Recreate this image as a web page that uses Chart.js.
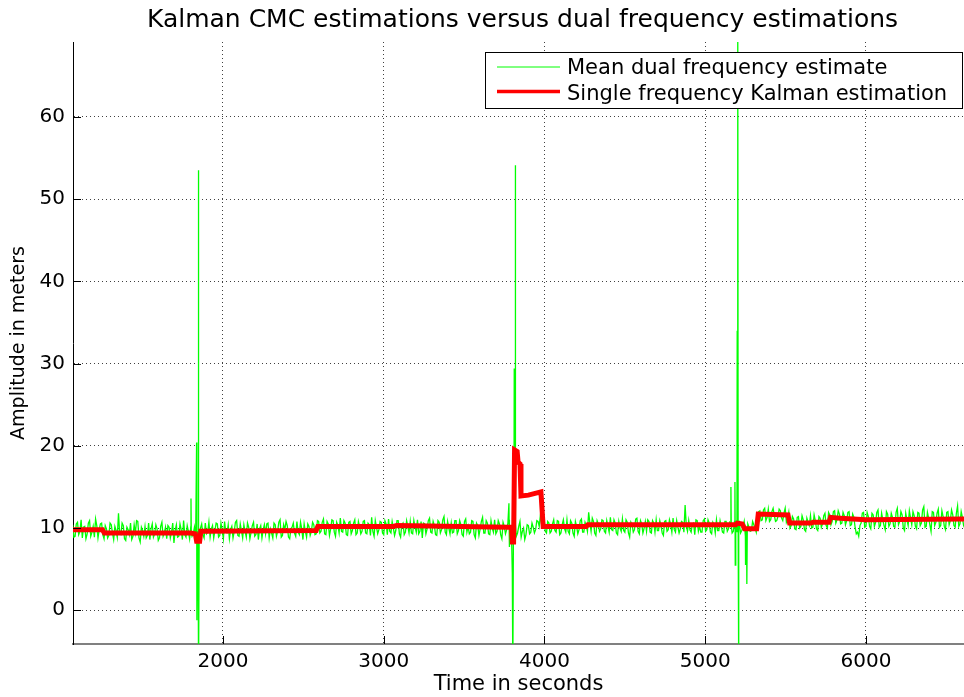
<!DOCTYPE html>
<html>
<head>
<meta charset="utf-8">
<title>Kalman CMC estimations versus dual frequency estimations</title>
<script src="https://cdn.jsdelivr.net/npm/chart.js@4.4.1/dist/chart.umd.min.js"></script>
<style>
    html, body { margin: 0; padding: 0; background: #fff; overflow: hidden; }
    #chart { display: block; }
</style>
</head>
<body>
<canvas id="chart" width="964" height="697"></canvas>
<script>
// Kalman CMC vs dual frequency

const chartTitle = 'Kalman CMC estimations versus dual frequency estimations';
const xTitle = 'Time in seconds';
const yTitle = 'Amplitude in meters';
const legendLabels = ['Mean dual frequency estimate', 'Single frequency Kalman estimation'];

const xTicks = [2000, 3000, 4000, 5000, 6000];
const yTicks = [0, 10, 20, 30, 40, 50, 60];
const xRange = [1067, 6610];
const yRange = [-4.1, 69.1];

// dual frequency estimate, one sample every 15 s from 1065 s
const dualStart = 1065;
const dualStep = 15;
const dualValues = [
    10.4, 9.0, 10.7, 9.6, 8.8, 10.2, 9.3, 10.9, 9.5, 8.9, 10.3, 9.8, 10.6, 8.7, 9.9, 9.1, 10.4, 8.6, 9.7, 11.8,
    9.2, 10.3, 8.5, 9.8, 10.6, 9.0, 9.4, 10.8, 8.3, 9.7, 10.2, 9.1, 8.6, 10.5, 9.3, 9.9, 8.8, 10.7, 9.4, 8.7,
    10.1, 9.5, 8.2, 10.4, 9.0, 9.8, 10.9, 8.9, 9.6, 10.2, 9.3, 8.8, 9.6, 10.0, 9.2, 10.6, 9.5, 8.9, 10.3, 9.7,
    10.5, 9.1, 9.8, 10.8, 9.4, 8.7, 10.2, 9.6, 10.9, 9.0, 9.7, 10.4, 8.9, 10.1, 9.5, 10.7, 9.2, 8.6, 10.3, 9.8,
    9.3, 10.6, 9.9, 8.8, 10.4, 9.6, 11.0, 9.1, 9.8, 10.3, 8.7, 10.1, 9.4, 10.8, 9.2, 9.9, 10.5, 8.9, 10.2, 9.6,
    10.4, 9.3, 10.8, 9.6, 11.1, 9.2, 10.5, 9.9, 10.9, 9.0, 10.3, 11.2, 9.5, 10.6, 9.1, 10.8, 9.7, 11.0, 9.4, 10.2,
    9.6, 10.9, 9.3, 10.4, 11.3, 9.0, 10.1, 9.8, 10.7, 9.2, 10.5, 11.1, 9.4, 10.0, 9.7, 10.9, 8.9, 10.6, 9.5, 10.2,
    10.8, 9.3, 10.1, 11.0, 9.6, 8.8, 10.5, 9.9, 11.2, 9.4, 10.3, 9.1, 10.7, 9.8, 11.4, 9.2, 10.0, 10.6, 9.5, 10.9,
    9.7, 10.4, 9.0, 11.1, 10.2, 9.5, 10.8, 8.8, 10.3, 9.9, 11.3, 9.4, 10.6, 9.2, 10.0, 11.0, 9.6, 10.5, 8.7, 10.2,
    9.8, 11.0, 9.3, 10.6, 9.0, 10.2, 8.9, 10.0, 9.2, 10.3, 9.5, 10.1, 9.8, 10.8, 11.6, 10.9, 9.6, 10.8, 9.4, 10.5,
    9.7, 10.9, 9.2, 10.4, 9.9, 11.0, 9.3, 10.6, 9.0, 10.2, 9.8, 11.1, 9.5, 10.3, 11.9, 9.6, 10.8, 9.1, 10.5, 9.9,
    10.9, 9.4, 10.2, 11.3, 9.7, 10.6, 9.2, 10.0, 11.1, 9.5, 10.7, 8.9, 10.4, 9.8, 11.2, 9.3, 10.5, 10.0, 9.6, 10.8,
    9.4, 10.6, 11.0, 9.7, 10.3, 9.1, 10.9, 9.8, 10.4, 11.2, 9.5, 10.1, 9.9, 10.7, 12.8, 9.6, 9.8, 10.5, 9.2, 10.9,
    10.2, 9.5, 11.1, 9.8, 10.6, 9.3, 10.4, 11.0, 9.7, 10.2, 9.4, 10.8, 9.9, 10.5, 9.6, 10.9, 10.3, 9.4, 10.1, 9.0,
    10.5, 9.6, 10.8, 10.0, 11.2, 12.1, 11.0, 12.4, 11.3, 10.8, 12.0, 11.5, 10.9, 12.3, 11.2, 11.8, 10.7, 11.9, 10.3, 11.1,
    9.8, 11.4, 10.2, 11.0, 9.6, 10.7, 11.5, 10.1, 10.9, 9.7, 11.2, 10.5, 11.8, 10.0, 11.6, 10.8, 12.1, 11.0, 11.7, 10.6,
    11.5, 10.9, 12.0, 10.4, 11.3, 9.3, 9.0, 10.6, 11.9, 10.2, 11.4, 9.9, 11.6, 10.7, 12.2, 10.3, 11.0, 9.8, 11.7, 10.5,
    11.3, 10.1, 12.4, 10.8, 11.6, 9.7, 11.0, 12.1, 10.4, 11.5, 9.9, 11.8, 10.6, 12.6, 10.2, 11.2, 9.6, 11.9, 10.7, 12.3,
    10.3, 11.4, 9.8, 12.0, 10.9, 11.6, 10.1, 12.7, 10.5, 11.3, 10.0
];

// in-between samples, 7.5 s after each of the ones above
const dualMidValues = [
    8.9, 10.5, 9.2, 11.0, 10.1, 8.7, 10.6, 9.0, 10.2, 11.1, 8.8, 10.5, 9.2, 10.3, 8.8, 10.6, 9.4, 10.2, 8.9, 9.3,
    10.6, 8.7, 10.1, 9.2, 8.6, 10.4, 10.9, 8.8, 10.1, 9.0, 8.8, 10.6, 9.9, 8.9, 10.4, 8.5, 10.2, 9.0, 10.1, 10.3,
    8.8, 10.6, 9.7, 8.9, 10.5, 8.6, 9.2, 10.3, 8.7, 9.0, 10.1, 9.5, 8.9, 10.5, 8.8, 9.3, 10.7, 9.9, 8.8, 10.6,
    8.9, 10.6, 8.7, 9.5, 10.4, 9.8, 8.8, 10.7, 9.1, 10.5, 8.8, 9.6, 10.6, 8.7, 10.3, 9.0, 10.5, 9.9, 8.8, 10.4,
    10.5, 8.8, 9.4, 10.6, 9.0, 10.7, 8.9, 10.4, 10.8, 8.9, 9.9, 10.6, 9.0, 9.5, 10.7, 8.6, 9.6, 10.5, 9.1, 10.7,
    9.2, 10.9, 9.4, 10.7, 9.3, 10.8, 9.1, 11.0, 9.5, 10.7, 9.4, 9.6, 10.9, 9.2, 10.7, 9.3, 10.6, 9.2, 10.8, 9.3,
    10.8, 9.4, 10.6, 9.1, 9.6, 10.9, 9.3, 10.8, 9.4, 10.9, 9.2, 9.6, 10.8, 9.1, 10.9, 9.3, 10.4, 9.2, 10.9, 9.4,
    9.4, 10.9, 9.5, 9.3, 10.8, 10.6, 9.3, 10.9, 9.5, 10.8, 9.2, 10.9, 9.4, 11.0, 9.5, 10.8, 9.3, 9.4, 10.9, 9.3,
    10.9, 9.2, 10.8, 9.5, 9.3, 10.9, 9.2, 10.6, 9.1, 10.8, 9.4, 10.9, 9.3, 10.9, 9.5, 9.3, 10.9, 9.2, 10.7, 9.3,
    10.6, 9.0, 6.0, 11.0, 9.4, 10.8, 9.6, 8.6, 10.4, 9.3, 10.6, 9.4, 10.9, 10.2, 10.5, 11.2, 9.4, 10.6, 9.6, 11.0,
    9.5, 10.8, 9.4, 11.0, 9.5, 9.6, 10.9, 9.4, 10.8, 9.3, 10.9, 9.5, 10.7, 9.6, 10.6, 11.2, 9.4, 10.9, 9.6, 11.0,
    9.6, 10.9, 9.5, 9.8, 11.0, 9.4, 10.8, 9.6, 9.7, 11.0, 9.4, 10.7, 9.5, 11.1, 9.6, 10.9, 9.4, 10.8, 11.0, 9.5,
    10.9, 9.5, 9.7, 10.9, 9.4, 10.8, 9.6, 11.0, 9.5, 9.8, 10.9, 9.4, 10.8, 9.5, 10.2, 10.9, 9.5, 10.6, 11.0, 9.6,
    9.5, 10.9, 9.6, 11.0, 9.5, 10.7, 9.4, 9.7, 10.9, 9.5, 10.8, 9.6, 10.7, 9.4, 10.8, 9.5, 10.6, 9.7, 10.8, 9.5,
    10.1, 9.7, 10.4, 9.5, 12.0, 10.9, 12.2, 10.9, 12.3, 11.0, 12.4, 10.8, 11.4, 12.1, 10.9, 12.4, 11.1, 10.0, 11.4, 9.9,
    11.3, 10.0, 11.5, 9.8, 11.2, 10.3, 10.0, 11.6, 9.9, 11.4, 10.1, 11.5, 10.3, 11.9, 10.4, 12.0, 10.6, 12.1, 10.5, 11.9,
    10.4, 11.9, 10.3, 11.7, 10.1, 9.5, 10.3, 11.8, 10.1, 11.9, 10.2, 11.8, 10.2, 11.9, 10.1, 11.8, 10.3, 12.0, 10.2, 11.8,
    10.2, 11.9, 10.4, 12.0, 10.0, 11.8, 10.3, 11.2, 12.0, 10.2, 11.9, 10.3, 12.2, 10.1, 11.9, 10.4, 12.0, 10.3, 11.8, 10.1,
    12.1, 10.2, 11.9, 10.4, 12.2, 10.3, 11.8, 10.2, 12.0, 10.3
];

// short spikes that fall between the regular samples
const dualSpikeTimes = [
    1801, 1803, 1836, 1838, 1840, 1846, 1848, 1850, 1852,
    3779, 3781, 3783, 3800, 3804, 3807, 3812, 3814, 3818, 3821,
    5160, 5162, 5185, 5187, 5199, 5201, 5204, 5207, 5210, 5250, 5252, 5259, 5262
];
const dualSpikeValues = [
    13.6, 9.4, 20.4, -1.2, 9.0, 53.5, 41.4, -8.0, 9.6,
    13.0, 7.7, 10.1, 4.5, -8.0, 10.0, 29.4, 9.0, 54.1, 10.5,
    15.0, 10.3, 15.6, 5.5, 34.0, 10.0, 75.0, -8.0, 10.3, 5.5, 10.0, 3.2, 10.2
];

// single frequency Kalman estimate (break points of the step curve)
const kalmanTimes = [
    1067, 1250, 1262, 1800, 1828, 1836, 1855, 1862, 2580, 2590,
    3060, 3080, 3780, 3795, 3800, 3808, 3814, 3830, 3836, 3848,
    3854, 3900, 3978, 3992, 4260, 4270, 5190, 5200, 5230, 5245,
    5320, 5330, 5515, 5525, 5660, 5670, 5770, 5780, 5840, 6000, 6610
];
const kalmanValues = [
    9.8, 9.8, 9.4, 9.4, 9.3, 8.4, 8.4, 9.6, 9.7, 10.2,
    10.2, 10.3, 10.1, 10.1, 8.3, 8.3, 19.5, 19.3, 18.0, 17.8,
    13.9, 14.0, 14.4, 10.2, 10.2, 10.4, 10.4, 10.6, 10.5, 9.9,
    9.9, 11.7, 11.6, 10.6, 10.6, 10.7, 10.7, 11.3, 11.2, 11.0, 11.1
];

const FONT = '"DejaVu Sans", "Liberation Sans", sans-serif';

function buildDualPoints() {
    const pts = dualValues.map((v, i) => ({ x: dualStart + i * dualStep, y: v }));
    dualMidValues.forEach((v, i) => pts.push({ x: dualStart + dualStep / 2 + i * dualStep, y: v }));
    dualSpikeTimes.forEach((t, i) => pts.push({ x: t, y: dualSpikeValues[i] }));
    return pts.sort((a, b) => a.x - b.x);
}

const kalmanPoints = kalmanTimes.map((t, i) => ({ x: t, y: kalmanValues[i] }));

// MATLAB style decorations: inward ticks, title, boxed legend
const decorPlugin = {
    id: 'matlabDecor',
    afterDraw(chart) {
        const { ctx, chartArea: area, scales } = chart;
        ctx.save();

        // inward tick marks
        ctx.strokeStyle = '#000';
        ctx.lineWidth = 1;
        ctx.beginPath();
        yTicks.forEach(v => {
            const y = Math.round(scales.y.getPixelForValue(v)) + 0.5;
            ctx.moveTo(area.left, y);
            ctx.lineTo(area.left + 8, y);
        });
        xTicks.forEach(v => {
            const x = Math.round(scales.x.getPixelForValue(v)) + 0.5;
            ctx.moveTo(x, area.bottom);
            ctx.lineTo(x, area.bottom - 8);
        });
        ctx.stroke();

        // title
        ctx.fillStyle = '#000';
        ctx.font = '25px ' + FONT;
        ctx.textAlign = 'center';
        ctx.textBaseline = 'alphabetic';
        ctx.fillText(chartTitle, (area.left + area.right) / 2 + 4, 27);

        // legend box
        const bx = area.right - 479, by = 52, bw = 477, bh = 56;
        ctx.fillStyle = '#fff';
        ctx.fillRect(bx, by, bw, bh);
        ctx.strokeStyle = '#000';
        ctx.lineWidth = 1;
        ctx.strokeRect(bx + 0.5, by + 0.5, bw, bh);

        ctx.strokeStyle = '#00ff00';
        ctx.lineWidth = 1;
        ctx.beginPath();
        ctx.moveTo(bx + 12, 67);
        ctx.lineTo(bx + 75, 67);
        ctx.stroke();

        ctx.strokeStyle = '#ff0000';
        ctx.lineWidth = 3.5;
        ctx.beginPath();
        ctx.moveTo(bx + 12, 91.5);
        ctx.lineTo(bx + 75, 91.5);
        ctx.stroke();

        ctx.fillStyle = '#000';
        ctx.font = '21px ' + FONT;
        ctx.textAlign = 'left';
        ctx.fillText(legendLabels[0], bx + 82, 74);
        ctx.fillText(legendLabels[1], bx + 82, 100);

        ctx.restore();
    }
};

new Chart(document.getElementById('chart'), {
    type: 'line',
    data: {
        datasets: [
            {
                label: legendLabels[1],
                data: kalmanPoints,
                borderColor: '#ff0000',
                borderWidth: 5,
                pointRadius: 0,
                tension: 0,
                order: 0
            },
            {
                label: legendLabels[0],
                data: buildDualPoints(),
                borderColor: '#00ff00',
                borderWidth: 1.3,
                pointRadius: 0,
                tension: 0,
                order: 1
            }
        ]
    },
    options: {
        responsive: false,
        animation: false,
        events: [],
        layout: { padding: { top: 42, left: 0, right: 0, bottom: 0 } },
        plugins: {
            legend: { display: false },
            title: { display: false },
            tooltip: { enabled: false }
        },
        scales: {
            x: {
                type: 'linear',
                min: xRange[0],
                max: xRange[1],
                afterFit: s => { s.height = 53; },
                afterBuildTicks: s => { s.ticks = xTicks.map(v => ({ value: v })); },
                ticks: {
                    font: { family: FONT, size: 20 },
                    color: '#000',
                    padding: 6,
                    maxRotation: 0,
                    callback: v => String(v)
                },
                grid: {
                    color: 'rgba(0,0,0,0.75)',
                    drawTicks: false
                },
                border: { color: '#808080', width: 2, dash: [1, 3] },
                title: {
                    display: true,
                    text: xTitle,
                    color: '#000',
                    font: { family: FONT, size: 21 },
                    padding: { top: 0, bottom: 0 }
                }
            },
            y: {
                type: 'linear',
                min: yRange[0],
                max: yRange[1],
                afterFit: s => { s.width = 73; },
                afterBuildTicks: s => { s.ticks = yTicks.map(v => ({ value: v })); },
                ticks: {
                    font: { family: FONT, size: 20 },
                    color: '#000',
                    padding: 8,
                    callback: v => String(v)
                },
                grid: {
                    color: 'rgba(0,0,0,0.75)',
                    drawTicks: false
                },
                border: { color: '#000', width: 1, dash: [1, 3] },
                title: {
                    display: true,
                    text: yTitle,
                    color: '#000',
                    font: { family: FONT, size: 19 },
                    padding: { top: 8, bottom: 0 }
                }
            }
        }
    },
    plugins: [decorPlugin]
});
</script>
</body>
</html>
